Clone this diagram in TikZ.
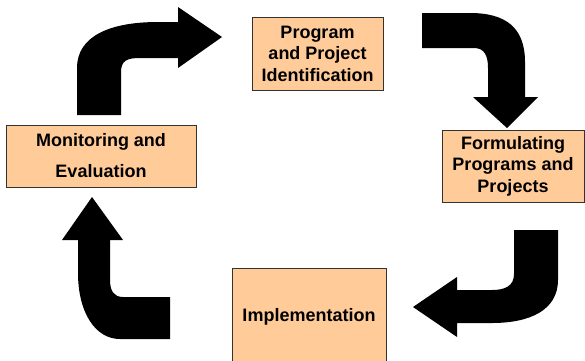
\documentclass[tikz,border=0pt]{standalone}
\usepackage{fontspec}
\setmainfont{Liberation Sans}
\definecolor{peach}{HTML}{FFCC99}
\tikzset{
  stage/.style={draw=black!80,line width=0.9pt,fill=peach,inner sep=0pt,align=center,
    font=\fontsize{18}{21.5}\selectfont\bfseries},
  bentarrow/.style={fill=black,draw=none},
}
\begin{document}
\begin{tikzpicture}[x=1pt,y=-1pt]
                \useasboundingbox (0,0) rectangle (585,360);
                %% stages
                \node[stage,minimum width=131pt,minimum height=73pt] (ident) at (317.5,53.5) {Program\\and Project\\Identification};
                \node[stage,minimum width=142pt,minimum height=72pt] (form) at (513,166) {Formulating\\Programs and\\Projects};
                \node[stage,minimum width=154pt,minimum height=98pt] (impl) at (309,317) {Implementation};
                \node[stage,minimum width=190pt,minimum height=62pt,font=\fontsize{18}{31}\selectfont\bfseries] (moni) at (101,156) {Monitoring and\\Evaluation};
                %% monitoring -> identification
                \fill[bentarrow] (77,115) -- (77,68) .. controls (77,36) and (110,22) .. (158,22) -- (178,22) -- (178,7)
                    -- (222,37) -- (178,68) -- (178,58) -- (140,58) .. controls (128,58) and (121,60) .. (121,72) -- (121,115) -- cycle;
                %% identification -> formulating
                \fill[bentarrow] (422,13) -- (470,13) .. controls (505,13) and (525,27) .. (525,62) -- (525,97) -- (538,97)
                    -- (507,128) -- (473,97) -- (488,97) -- (488,68) .. controls (488,55) and (484,48) .. (474,48) -- (422,48) -- cycle;
                %% formulating -> implementation
                \fill[bentarrow] (514,230) -- (558,230) -- (558,280) .. controls (558,310) and (530,323) .. (492,323) -- (457,323)
                    -- (457,337) -- (413,307) -- (457,277) -- (457,290) -- (492,290) .. controls (505,290) and (514,286) .. (514,274) -- cycle;
                %% implementation -> monitoring
                \fill[bentarrow] (170,297) -- (170,339) -- (120,339) .. controls (95,339) and (78,312) .. (78,273) -- (78,240) -- (62,240)
                    -- (92,197) -- (123,240) -- (110,240) -- (110,280) .. controls (110,291) and (114,297) .. (123,297) -- cycle;
\end{tikzpicture}
\end{document}
